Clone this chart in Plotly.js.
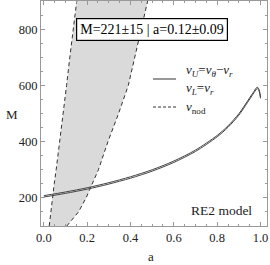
<!DOCTYPE html>
<html><head><meta charset="utf-8">
<script src="https://cdn.plot.ly/plotly-3.0.1.min.js"></script>
<style>html,body{margin:0;padding:0;background:#fff}</style>
</head><body><div id="chart" style="width:270px;height:265px"></div>
<script>
// Nodal-precession band (dashed edges), M grid
const nodM      = [100, 150, 200, 250, 300, 400, 500, 600, 700, 800, 900, 950];
const nodLeftA  = [0.025, 0.032, 0.040, 0.048, 0.057, 0.074, 0.090, 0.105, 0.120, 0.136, 0.152, 0.160];
const nodRightA = [0.106, 0.160, 0.195, 0.222, 0.252, 0.296, 0.345, 0.390, 0.420, 0.450, 0.480, 0.494];

// Resonance curves M(a)
const spinA = [0.0, 0.1, 0.2, 0.3, 0.4, 0.5, 0.6, 0.7, 0.8, 0.85, 0.9, 0.94, 0.97, 0.985, 0.993, 1.0];
const nuU_M = [203, 216, 231, 249, 270, 295, 326, 365, 417, 451, 494, 539, 574, 589, 581, 554];
const nuL_M = [208, 221, 236, 254, 275, 300, 331, 370, 422, 456, 499, 544, 579, 594, 586, 559];

const xTicks = [0.0, 0.2, 0.4, 0.6, 0.8, 1.0];
const xTickText = ["0.0", "0.2", "0.4", "0.6", "0.8", "1.0"];
const yTicks = [200, 400, 600, 800];

const W = 270, H = 265, L = 41, R = 267, T = 1, B = 226;
const px = x => (x - L) / (R - L);
const py = y => (B - y) / (B - T);

const bandA = nodLeftA.concat(nodRightA.slice().reverse());
const bandM = nodM.concat(nodM.slice().reverse());

const serif = "'Liberation Serif', 'Times New Roman', serif";
const traces = [
  {x: bandA, y: bandM, mode: "lines", fill: "toself", fillcolor: "#dadada",
   line: {width: 0}, hoverinfo: "skip", showlegend: false},
  {x: nodLeftA, y: nodM, mode: "lines", line: {color: "#333", width: 1, dash: "4px,3px"}, showlegend: false},
  {x: nodRightA, y: nodM, mode: "lines", line: {color: "#333", width: 1, dash: "4px,3px"}, showlegend: false},
  {x: spinA, y: nuU_M, mode: "lines", line: {color: "#444", width: 1, shape: "spline", smoothing: 0.8}, showlegend: false},
  {x: spinA, y: nuL_M, mode: "lines", line: {color: "#444", width: 1, shape: "spline", smoothing: 0.8}, showlegend: false}
];

const axisCommon = {
  showgrid: false, zeroline: false, showline: true, linecolor: "#999", linewidth: 1,
  mirror: "ticks", ticks: "inside", ticklen: 4, tickcolor: "#999",
  tickfont: {family: serif, size: 12.5, color: "#222"}
};

const layout = {
  width: W, height: H,
  margin: {l: L, r: W - R, t: T, b: H - B, pad: 0},
  paper_bgcolor: "#fff", plot_bgcolor: "#fff",
  font: {family: serif},
  showlegend: false,
  xaxis: Object.assign({}, axisCommon, {range: [-0.013, 1.03], tickvals: xTicks, ticktext: xTickText,
    minor: {ticks: "inside", ticklen: 2, tickcolor: "#999", dtick: 0.05, tick0: 0}}),
  yaxis: Object.assign({}, axisCommon, {range: [100, 900], tickvals: yTicks,
    minor: {ticks: "inside", ticklen: 2, tickcolor: "#999", dtick: 50, tick0: 0}}),
  shapes: [
    {type: "line", xref: "paper", yref: "paper", x0: px(153), x1: px(176), y0: py(79), y1: py(79),
     line: {color: "#333", width: 1}},
    {type: "line", xref: "paper", yref: "paper", x0: px(153), x1: px(176), y0: py(107), y1: py(107),
     line: {color: "#333", width: 1, dash: "3px,2px"}}
  ],
  annotations: [
    {xref: "paper", yref: "paper", x: px(151.5), y: py(29.5), xanchor: "center", yanchor: "middle",
     text: "M=221±15 | a=0.12±0.09", showarrow: false, bgcolor: "#fff", bordercolor: "#000",
     borderwidth: 1.2, borderpad: 3, font: {family: serif, size: 14, color: "#000"}},
    {xref: "paper", yref: "paper", x: px(184), y: py(70), xanchor: "left", yanchor: "middle",
     text: "<i>ν</i><sub><i>U</i></sub>=<i>ν</i><sub><i>θ</i></sub>−<i>ν</i><sub><i>r</i></sub>",
     showarrow: false, font: {family: serif, size: 13, color: "#222"}},
    {xref: "paper", yref: "paper", x: px(184), y: py(89), xanchor: "left", yanchor: "middle",
     text: "<i>ν</i><sub><i>L</i></sub>=<i>ν</i><sub><i>r</i></sub>",
     showarrow: false, font: {family: serif, size: 13, color: "#222"}},
    {xref: "paper", yref: "paper", x: px(184), y: py(107), xanchor: "left", yanchor: "middle",
     text: "<i>ν</i><sub>nod</sub>",
     showarrow: false, font: {family: serif, size: 13, color: "#222"}},
    {xref: "paper", yref: "paper", x: px(221), y: py(210), xanchor: "center", yanchor: "middle",
     text: "RE2 model", showarrow: false, font: {family: serif, size: 13.5, color: "#222"}},
    {xref: "paper", yref: "paper", x: px(12), y: py(115), xanchor: "center", yanchor: "middle",
     text: "M", showarrow: false, font: {family: serif, size: 13, color: "#222"}},
    {xref: "paper", yref: "paper", x: px(151), y: py(256), xanchor: "center", yanchor: "middle",
     text: "a", showarrow: false, font: {family: serif, size: 13, color: "#222"}}
  ]
};

Plotly.newPlot("chart", traces, layout, {staticPlot: true, displayModeBar: false});
</script></body></html>
